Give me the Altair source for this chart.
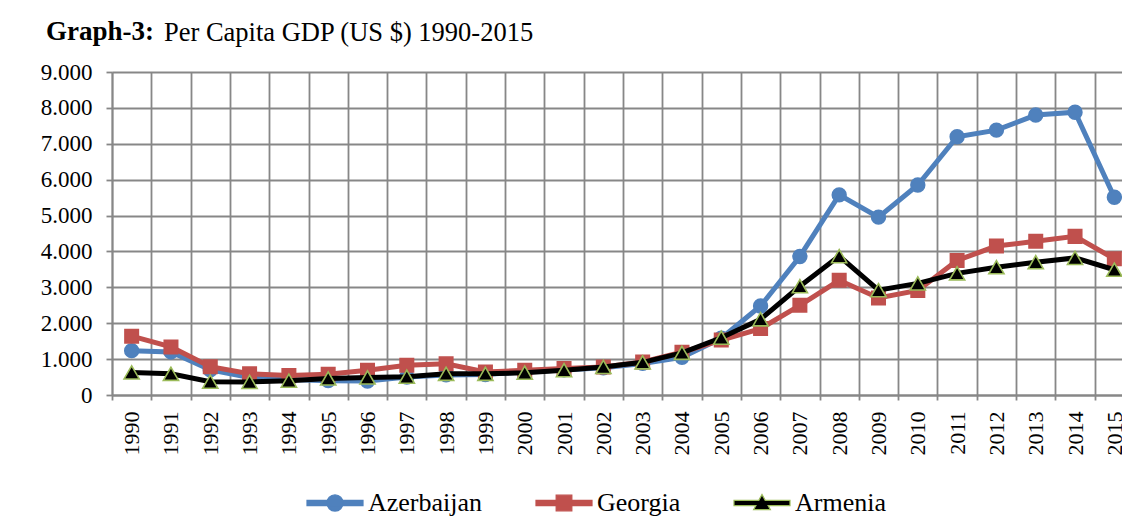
import altair as alt
import pandas as pd

years = [str(y) for y in range(1990, 2016)]
azerbaijan = [1235, 1200, 700, 490, 430, 400, 390, 500, 560, 570, 650, 700, 760,
              880, 1050, 1580, 2480, 3860, 5575, 4955, 5850, 7195, 7380, 7800, 7880, 5510]
georgia = [1640, 1340, 790, 590, 540, 580, 690, 830, 870, 640, 690, 740, 780,
           920, 1190, 1530, 1850, 2500, 3195, 2705, 2915, 3750, 4150, 4285, 4420, 3795]
armenia = [630, 590, 370, 365, 400, 460, 490, 510, 590, 590, 620, 690, 780,
           910, 1175, 1595, 2110, 3030, 3870, 2920, 3110, 3390, 3560, 3700, 3820, 3490]

countries = ["Azerbaijan", "Georgia", "Armenia"]
series = [azerbaijan, georgia, armenia]
line_colors = ["#4F81BD", "#C0504D", "#000000"]
marker_fill = ["#4F81BD", "#C0504D", "#000000"]
marker_stroke = ["#4F81BD", "#C0504D", "#9BBB59"]
marker_shapes = ["circle", "square", "triangle-up"]
marker_sizes = [190, 180, 230]

# legend symbols: line with marker in the middle (unit box scaled by symbolSize)
legend_paths = [
    "M-1,-0.093L1,-0.093L1,0.093L-1,0.093Z"
    "M0.29,0A0.29,0.29 0 1,1 -0.29,0A0.29,0.29 0 1,1 0.29,0Z",
    "M-1,-0.093L1,-0.093L1,0.093L-1,0.093Z"
    "M-0.28,-0.28L0.28,-0.28L0.28,0.28L-0.28,0.28Z",
    "M-1,-0.093L-0.115,-0.093L0,-0.3L0.115,-0.093L1,-0.093L1,0.093"
    "L0.218,0.093L0.3,0.24L-0.3,0.24L-0.218,0.093L-1,0.093Z",
]

rows = []
for c, vals in zip(countries, series):
    for yr, v in zip(years, vals):
        rows.append({"year": yr, "country": c, "gdp": v})
df = pd.DataFrame(rows)
legend_df = pd.DataFrame({"country": countries})

FONT = "Liberation Serif"
GRID = "#878787"

x_enc = alt.X(
    "year:O",
    sort=years,
    bandPosition=0.5,
    scale=alt.Scale(type="band", paddingInner=0, paddingOuter=0),
    axis=alt.Axis(
        title=None, tickBand="extent", grid=True, gridColor=GRID, gridWidth=1.8,
        domainColor=GRID, domainWidth=1.8, tickColor=GRID, tickWidth=1.8, tickSize=5,
        labelAngle=270, labelFont=FONT, labelFontSize=22, labelColor="black",
        labelPadding=11, labelOverlap=False,
    ),
)
y_enc = alt.Y(
    "gdp:Q",
    scale=alt.Scale(domain=[0, 9000], nice=False),
    axis=alt.Axis(
        title=None, values=list(range(0, 9001, 1000)), grid=True, gridColor=GRID,
        gridWidth=1.8, domainColor=GRID, domainWidth=1.8, tickColor=GRID,
        tickWidth=1.8, tickSize=6, labelFont=FONT, labelFontSize=23,
        labelColor="black", labelPadding=14,
        labelExpr="replace(format(datum.value, ','), ',', '.')",
    ),
)

layers = []
for i, c in enumerate(countries):
    base = alt.Chart(df).transform_filter(alt.datum.country == c)
    layers.append(base.mark_line(color=line_colors[i], strokeWidth=5).encode(x=x_enc, y=y_enc))
    layers.append(
        base.mark_point(
            filled=True, opacity=1, shape=marker_shapes[i], size=marker_sizes[i],
            fill=marker_fill[i], stroke=marker_stroke[i], strokeWidth=1.6,
        ).encode(x=x_enc, y=y_enc)
    )

leg = alt.Legend(
    title=None, orient="none", legendX=194, legendY=402, direction="horizontal",
    symbolSize=3136, symbolStrokeWidth=1.2, labelFont=FONT, labelFontSize=26,
    labelColor="black", labelOffset=4, columnPadding=50, padding=0,
    symbolOpacity=1,
)
legend_layer = (
    alt.Chart(legend_df)
    .transform_filter("false")
    .mark_point(filled=True, opacity=1)
    .encode(
        shape=alt.Shape("country:N", scale=alt.Scale(domain=countries, range=legend_paths), legend=leg),
        fill=alt.Fill("country:N", scale=alt.Scale(domain=countries, range=marker_fill), legend=leg),
        stroke=alt.Stroke("country:N", scale=alt.Scale(domain=countries, range=marker_stroke), legend=leg),
    )
)
layers.append(legend_layer)

NB = "\u00a0"
chart = (
    alt.layer(*layers)
    .properties(
        width=1022,
        height=323,
        autosize=alt.AutoSizeParams(type="none"),
        padding={"left": 104, "top": 64, "right": -12, "bottom": 128},
        title=alt.Title(
            text="Graph-3:",
            subtitle="\u200b" + NB * 17 + "\u2009" + "Per Capita GDP (US $) 1990-2015",
            anchor="start", frame="group", dx=-66, offset=14,
            font=FONT, fontSize=27, fontWeight="bold", color="black",
            subtitleFont=FONT, subtitleFontSize=26.5, subtitleFontWeight="normal",
            subtitleColor="black", subtitlePadding=-26.5,
        ),
    )
    .configure_view(stroke=None)
)

chart.save("out.html", embed_options={"renderer": "svg", "actions": False})
